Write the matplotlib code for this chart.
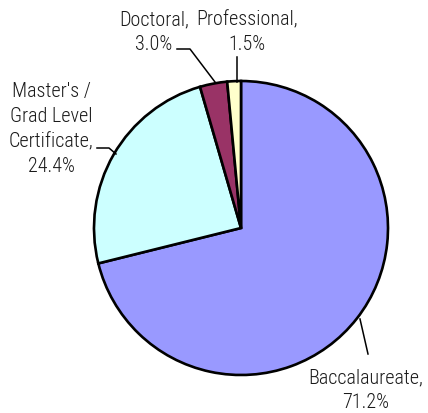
import matplotlib
matplotlib.use("Agg")
import matplotlib.pyplot as plt

plt.rcParams["font.family"] = ["Roboto Condensed", "DejaVu Sans"]

# ===== DATA =====
labels = ["Baccalaureate", "Master's /\nGrad Level\nCertificate", "Doctoral", "Professional"]
values = [71.2, 24.4, 3.0, 1.5]
colors = ["#9999FF", "#CCFFFF", "#993366", "#FFFFCC"]

# label placement (pixel coords, y down) and leader lines
label_pos = [(366, 390), (51, 129), (154, 32), (247, 32)]
leaders = [
    [(360, 319), (368, 354)],
    [(97, 148), (109, 148), (116, 154)],
    [(177, 49), (190, 49), (215, 82)],
    [(237, 57), (237, 82)],
]

# ===== PLOT =====
fig = plt.figure(figsize=(4.28, 4.13), dpi=100)
ax = fig.add_axes([0, 0, 1, 1])
ax.axis("off")

# y axis is flipped, so startangle -90 / counterclock=True draws clockwise from 12 o'clock
ax.pie(values, colors=colors, startangle=-90, counterclock=True,
       center=(241, 228), radius=147,
       wedgeprops=dict(edgecolor="black", linewidth=1.9))
ax.set_xlim(0, 428)
ax.set_ylim(413, 0)
ax.set_aspect("equal")

for lab, val, (x, y), pts in zip(labels, values, label_pos, leaders):
    ax.text(x, y, f"{lab},\n{val:.1f}%", ha="center", va="center",
            fontsize=14.5, fontweight="light", color="#1a1a1a", linespacing=1.4)
    xs, ys = zip(*pts)
    ax.plot(xs, ys, color="black", linewidth=1.1)

fig.savefig("out.png", dpi=100)
